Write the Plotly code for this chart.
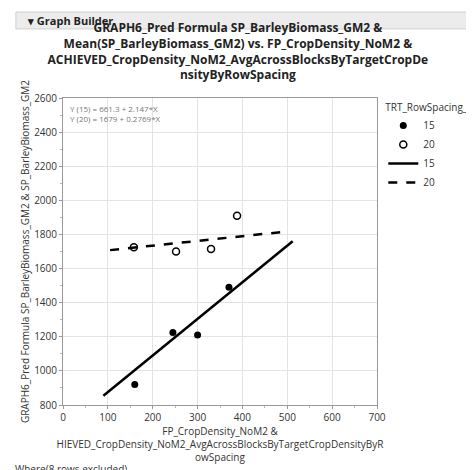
import plotly.graph_objects as go

x15 = [160, 245, 300, 370]
y15 = [920, 1225, 1210, 1490]
x20 = [158, 252, 330, 388]
y20 = [1725, 1700, 1715, 1910]
fit15 = (661.3, 2.147, [90, 512])
fit20 = (1679, 0.2769, [105, 485])

fig = go.Figure()
fig.add_trace(go.Scatter(x=x15, y=y15, mode="markers", name="15",
    marker=dict(color="black", size=7)))
fig.add_trace(go.Scatter(x=x20, y=y20, mode="markers", name="20",
    marker=dict(color="white", size=7, line=dict(color="black", width=1.5))))
for (a, b, xr), nm, dash in [(fit15, "15", "solid"), (fit20, "20", "dash")]:
    fig.add_trace(go.Scatter(x=xr, y=[a + b * v for v in xr], mode="lines", name=nm,
        line=dict(color="black", width=2.5, dash=dash)))

F = "Open Sans"
fig.update_layout(
    width=474, height=470, paper_bgcolor="white", plot_bgcolor="white",
    margin=dict(l=55, r=105, t=90, b=73, autoexpand=False),
    font=dict(family=F, size=10, color="#333"),
    showlegend=True,
    legend=dict(x=1.02, y=1.0, xanchor="left", yanchor="top",
        title=dict(text="TRT_RowSpacing_Cm", font=dict(size=10)), font=dict(size=10),
        tracegroupgap=0),
    xaxis=dict(range=[0, 700], dtick=100, showgrid=True, gridcolor="#e3e3e3", automargin=False,
        showline=True, linecolor="#999", mirror=True, ticks="outside", ticklen=3,
        tickcolor="#999", zeroline=False, minor=dict(ticks="outside", ticklen=2, dtick=50, tickcolor="#bbb"),
        title=dict(text="FP_CropDensity_NoM2 &<br>HIEVED_CropDensity_NoM2_AvgAcrossBlocksByTargetCropDensityByR<br>owSpacing",
            font=dict(size=10), standoff=3)),
    yaxis=dict(range=[800, 2600], dtick=200, showgrid=True, gridcolor="#e3e3e3", automargin=False,
        showline=True, linecolor="#999", mirror=True, ticks="outside", ticklen=3,
        tickcolor="#999", zeroline=False, minor=dict(ticks="outside", ticklen=2, dtick=100, tickcolor="#bbb"),
        title=dict(text="GRAPH6_Pred Formula SP_BarleyBiomass_GM2 & SP_BarleyBiomass_GM2",
            font=dict(size=10), standoff=2)),
    title=dict(text="<b>GRAPH6_Pred Formula SP_BarleyBiomass_GM2 &<br>Mean(SP_BarleyBiomass_GM2) vs. FP_CropDensity_NoM2 &<br>ACHIEVED_CropDensity_NoM2_AvgAcrossBlocksByTargetCropDe<br>nsityByRowSpacing</b>",
        x=0.485, xanchor="center", y=0.948, yanchor="top", automargin=False,
        font=dict(size=12, color="#222")),
)
fig.add_annotation(xref="paper", yref="paper", x=0.015, y=0.99, xanchor="left", yanchor="top",
    text="Y (15) = 661.3 + 2.147*X<br>Y (20) = 1679 + 0.2769*X", showarrow=False, align="left",
    font=dict(size=8, color="#777"))
fig.add_shape(type="rect", xref="paper", yref="paper", x0=-0.15, x1=1.33, y0=1.225, y1=1.28,
    fillcolor="#ececec", line=dict(color="#d0d0d0", width=1), layer="below")
fig.add_annotation(xref="paper", yref="paper", x=-0.12, y=1.252, xanchor="left", yanchor="middle",
    text="<b>▾ Graph Builder</b>", showarrow=False, font=dict(size=11, color="#222"))
fig.add_annotation(xref="paper", yref="paper", x=-0.16, y=-0.208, xanchor="left", yanchor="middle",
    text="Where(8 rows excluded)", showarrow=False, font=dict(size=10, color="#333"))
fig.write_html("out.html")
